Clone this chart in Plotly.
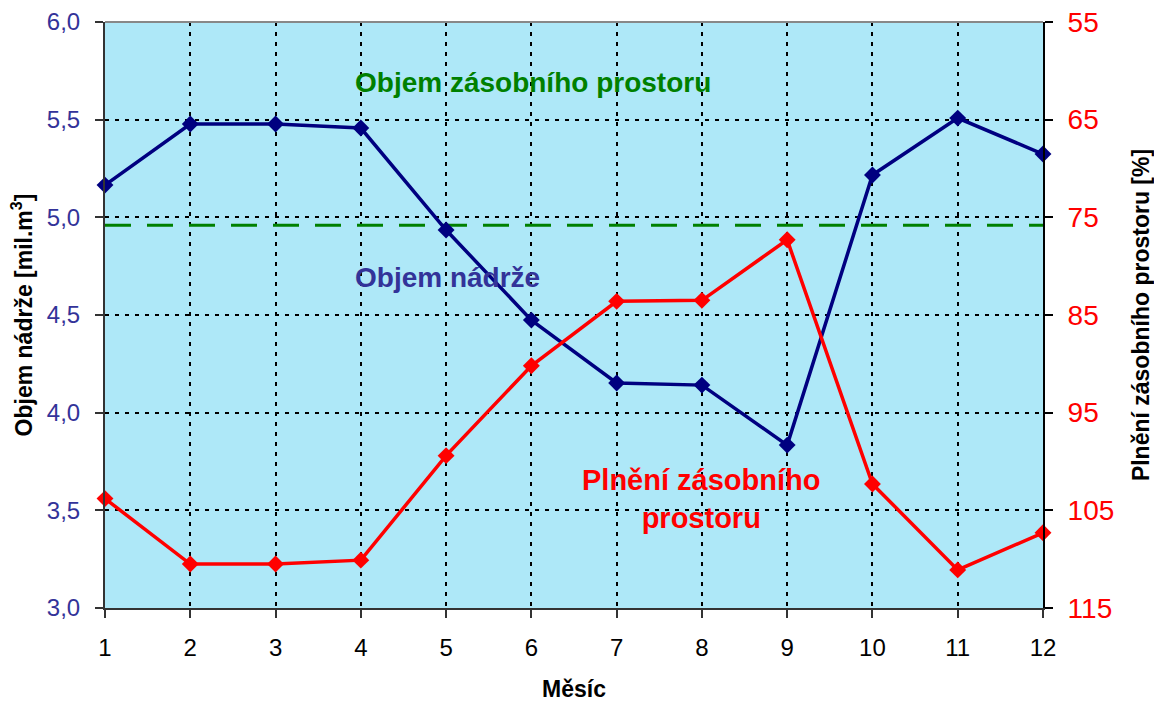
import plotly.graph_objects as go

months = [1, 2, 3, 4, 5, 6, 7, 8, 9, 10, 11, 12]
objem_nadrze = [5.165, 5.478, 5.478, 5.457, 4.935, 4.474, 4.152, 4.141, 3.834, 5.217, 5.508, 5.324]
plneni = [103.8, 110.5, 110.5, 110.1, 99.4, 90.2, 83.6, 83.5, 77.3, 102.3, 111.1, 107.3]
objem_zasobniho = [4.96] * 12
left_ticks = [3.0, 3.5, 4.0, 4.5, 5.0, 5.5, 6.0]
right_ticks = [55, 65, 75, 85, 95, 105, 115]

FONT = "Liberation Sans, Arial, sans-serif"

fig = go.Figure()
fig.add_trace(go.Scatter(x=months, y=objem_zasobniho, mode="lines",
                         line=dict(color="#008000", width=3, dash="26px,16px"),
                         showlegend=False, hoverinfo="skip"))
fig.add_trace(go.Scatter(x=months, y=objem_nadrze, mode="lines+markers",
                         line=dict(color="#000080", width=3.5),
                         marker=dict(symbol="diamond", size=13, color="#000080"),
                         showlegend=False, cliponaxis=False))
fig.add_trace(go.Scatter(x=months, y=plneni, yaxis="y2", mode="lines+markers",
                         line=dict(color="#ff0000", width=3.5),
                         marker=dict(symbol="diamond", size=13, color="#ff0000"),
                         showlegend=False, cliponaxis=False))

grid = dict(showgrid=True, gridcolor="black", gridwidth=2, griddash="4px,6px")

fig.update_layout(
    width=1154, height=702,
    margin=dict(l=105, r=111, t=22, b=94),
    paper_bgcolor="white", plot_bgcolor="#aee8f8",
    separators=", ",
    font=dict(family=FONT),
    xaxis=dict(range=[1, 12], tickvals=months, ticks="outside", ticklen=8, tickwidth=2,
               tickcolor="#333333", showline=True, linecolor="#333333", linewidth=2,
               mirror=False, zeroline=False, ticklabelstandoff=9, automargin=False,
               tickfont=dict(size=24, color="black"),
               title=dict(text="<b>Měsíc</b>", font=dict(size=23, color="black"), standoff=22),
               **grid),
    yaxis=dict(range=[3, 6], tickvals=left_ticks, tickformat=".1f", ticks="outside",
               ticklen=8, tickwidth=2, tickcolor="#333333", showline=True,
               linecolor="#333333", linewidth=2, zeroline=False, ticklabelstandoff=10,
               automargin=False, tickfont=dict(size=24, color="#333399"),
               title=dict(text="<b>Objem nádrže [mil.m<sup>3</sup>]</b>",
                          font=dict(size=23, color="black"), standoff=8),
               **grid),
    yaxis2=dict(range=[115, 55], overlaying="y", side="right", tickvals=right_ticks,
                ticks="outside", ticklen=8, tickwidth=2, tickcolor="black",
                showline=True, linecolor="black", linewidth=2, showgrid=False,
                zeroline=False, ticklabelstandoff=9, automargin=False,
                tickfont=dict(size=28, color="#ff0000"),
                title=dict(text="<b>Plnění zásobního prostoru [%]</b>",
                           font=dict(size=23, color="black"), standoff=22)),
)

fig.add_shape(type="line", xref="paper", yref="paper", x0=0, x1=1, y0=1, y1=1,
              line=dict(color="#888888", width=2))

fig.add_annotation(x=6.02, y=5.69, xref="x", yref="y", text="<b>Objem zásobního prostoru</b>",
                   showarrow=False, font=dict(size=28, color="#008000"))
fig.add_annotation(x=5.02, y=4.69, xref="x", yref="y", text="<b>Objem nádrže</b>",
                   showarrow=False, font=dict(size=28, color="#333399"))
fig.add_annotation(x=7.99, y=3.56, xref="x", yref="y", text="<b>Plnění zásobního<br>prostoru</b>",
                   showarrow=False, font=dict(size=29, color="#ff0000"), align="center")

fig.write_html("out.html")
